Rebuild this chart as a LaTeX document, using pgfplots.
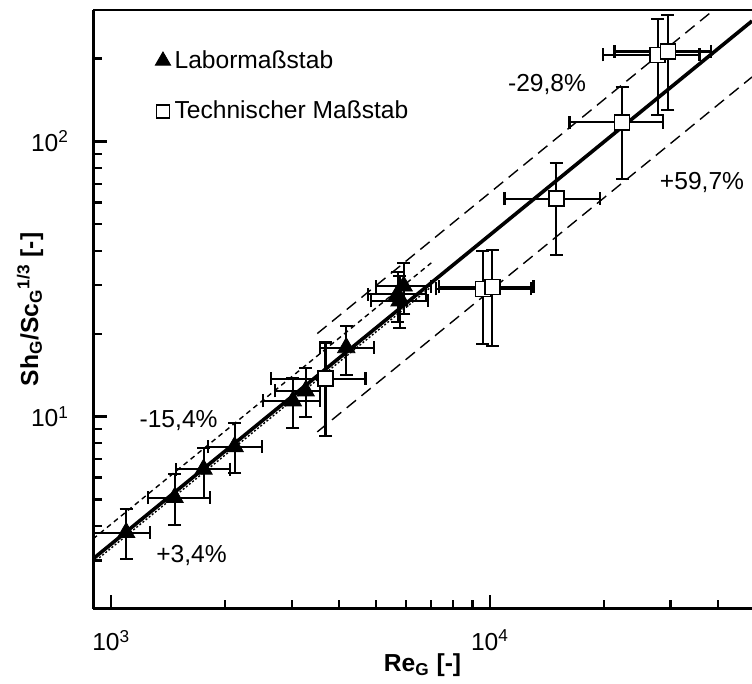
\documentclass[border=0pt]{standalone}
\usepackage{fontspec}
\setmainfont{Liberation Sans}
\usepackage{pgfplots}
\pgfplotsset{compat=1.18}
\usepackage{pgfplotstable}
\usetikzlibrary{calc}

% Labormassstab: x y, errors minus/plus
\pgfplotstableread{
x y xm xp ym yp
1095 3.79 192 173 0.76 0.82
1470 5.08 220 348 1.04 1.09
1753 6.44 268 301 1.36 1.28
2117 7.78 318 387 1.55 1.72
3017 11.4 503 531 2.28 2.45
3260 12.4 561 288 2.40 2.67
4174 17.8 626 781 3.60 3.50
5700 27.8 940 1090 5.8 5.7
5770 26.3 910 1085 5.3 6.1
5920 29.8 910 1080 6.3 6.4
}\labdata

% Technischer Massstab
\pgfplotstableread{
x y xm xp ym yp
3681 13.74 1037 1009 5.24 4.86
9579 29.1 2368 3271 10.8 10.8
10140 29.6 2790 2890 11.6 10.6
14960 61.9 4030 4530 23.2 21.6
22330 117.2 6110 6290 44.0 40.2
27730 206 7860 8040 81 72
29490 212 8160 8880 82 76
}\techdata

\begin{document}
\begin{tikzpicture}[font=\fontsize{12.3bp}{14bp}\selectfont]
\begin{axis}[
  scale only axis, width=329.5bp, height=299.5bp,
  xmode=log, ymode=log,
  xmin=895, xmax=49200, ymin=2, ymax=300,
  axis lines*=left, axis line style={-, line width=1.5bp},
  tick align=inside,
  major tick length=7bp, minor tick length=4.5bp,
  tick style={line width=1.2bp, black},
  xtick={1000,10000}, xticklabels={10\textsuperscript{3},10\textsuperscript{4}},
  minor xtick={2000,3000,4000,5000,6000,7000,8000,9000,20000,30000,40000},
  ytick={10,100}, yticklabels={10\textsuperscript{1},10\textsuperscript{2}},
  minor ytick={3,4,5,6,7,8,9,20,30,40,50,60,70,80,90,200,300},
  xticklabel style={yshift=-7bp},
  yticklabel style={xshift=-8.5bp},
  xlabel={\textbf{Re\textsubscript{G} [-]}},
  ylabel={\textbf{Sh\textsubscript{G}/Sc\textsubscript{G}\textsuperscript{1/3} [-]}},
  xlabel style={at={(axis description cs:0.5,-0.0935)}, anchor=center},
  ylabel style={at={(axis description cs:-0.0956,0.5)}, anchor=center},
  legend style={draw=none, fill=none, at={(0.094,0.94)}, anchor=north west, row sep=11bp, inner sep=0pt},
  legend cell align=left,
  legend image code/.code={\draw[#1] plot coordinates {(0.1cm,0cm)};},
]
\addlegendimage{only marks, mark=triangle*, mark size=4.4bp, black}
\addlegendentry{Labormaßstab}
\addlegendimage{only marks, mark=square, mark size=3.2bp, black, mark options={line width=0.8bp}}
\addlegendentry{Technischer Maßstab}

% fit and bands
\addplot[black, line width=1.8bp, forget plot] coordinates {(895,3.041) (49200,273.6)};
\addplot[black, line width=0.7bp, dash pattern=on 6bp off 3.5bp, forget plot] coordinates {(3500,20.03) (49200,389.7)};
\addplot[black, line width=0.7bp, dash pattern=on 6bp off 3.5bp, forget plot] coordinates {(3500,8.80) (49200,171.3)};
\addplot[black, line width=0.7bp, dash pattern=on 2.5bp off 2bp, forget plot] coordinates {(895,3.594) (7000,36.19)};
\addplot[black, line width=0.7bp, dash pattern=on 1bp off 1bp, forget plot] coordinates {(895,2.941) (7000,29.61)};

\addplot[only marks, mark=triangle*, mark size=5bp, black, forget plot,
  error bars/.cd, x dir=both, x explicit, y dir=both, y explicit,
  error bar style={line width=1bp, black},
  error mark options={rotate=90, mark size=3.25bp, line width=1bp, black}]
  table[x=x, y=y, x error plus=xp, x error minus=xm, y error plus=yp, y error minus=ym]{\labdata};
\addplot[only marks, mark=square*, mark size=3.75bp, mark options={fill=white, draw=black, line width=0.8bp}, forget plot,
  error bars/.cd, x dir=both, x explicit, y dir=both, y explicit,
  error bar style={line width=1.1bp, black},
  error mark options={rotate=90, mark size=3.25bp, line width=1.1bp, black}]
  table[x=x, y=y, x error plus=xp, x error minus=xm, y error plus=yp, y error minus=ym]{\techdata};

\node at (axis cs:1506,9.70) {-15,4\%};
\node at (axis cs:1629,3.126) {+3,4\%};
\node at (axis cs:14150,160.6) {-29,8\%};
\node at (axis cs:36310,71.0) {+59,7\%};

\draw[line width=1.5bp] (rel axis cs:0,1) -- (rel axis cs:1,1);
\end{axis}
\pgfresetboundingbox
\path[use as bounding box] ($(current axis.south west)+(-46.5bp,-37.5bp)$) rectangle ($(current axis.north east)+(0bp,5bp)$);
\end{tikzpicture}
\end{document}
